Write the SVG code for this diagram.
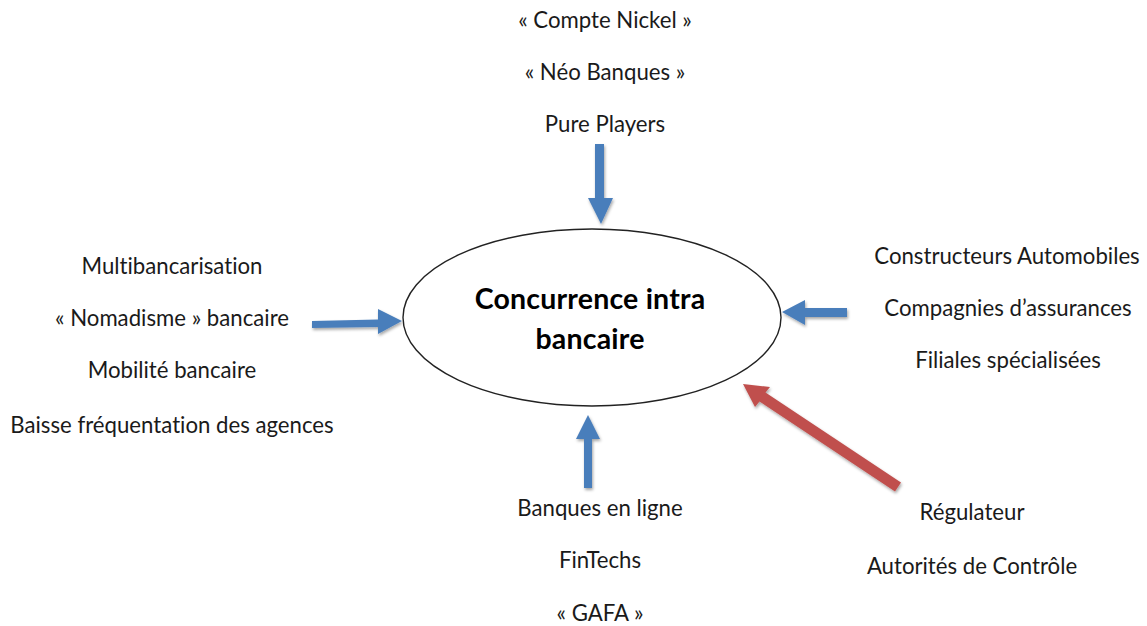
<svg xmlns="http://www.w3.org/2000/svg" width="1147" height="626" viewBox="0 0 1147 626">
<style>
text{font-family:Lato,"Open Sans","Liberation Sans",sans-serif;font-size:22.2px;font-variant-ligatures:none;fill:#1a1a1a;text-anchor:middle}
.t{font-weight:700;font-size:28.5px;letter-spacing:.2px;fill:#000}
.b{fill:#4a7ebb;filter:url(#s)}
.r{fill:#c0504d;filter:url(#s)}
</style>
<defs><filter id="s" x="-30%" y="-30%" width="160%" height="160%"><feDropShadow dx="1" dy="2" stdDeviation="1.6" flood-color="#000" flood-opacity=".35"/></filter></defs>
<rect width="1147" height="626" fill="#fff"/>
<g id="center"><ellipse cx="592" cy="317.5" rx="189" ry="88.5" fill="#fff" stroke="#222" stroke-width="1.4"/>
<text class="t" x="590" y="309">Concurrence intra</text><text class="t" x="590" y="349">bancaire</text></g>
<g id="top"><text x="605" y="28">« Compte Nickel »</text><text x="605" y="80">« Néo Banques »</text><text x="605" y="132">Pure Players</text></g>
<g id="left"><text x="172" y="274">Multibancarisation</text><text x="172" y="326">« Nomadisme » bancaire</text><text x="172" y="378">Mobilité bancaire</text><text x="172" y="433">Baisse fréquentation des agences</text></g>
<g id="right"><text x="1007" y="264">Constructeurs Automobiles</text><text x="1008" y="316">Compagnies d’assurances</text><text x="1008" y="368">Filiales spécialisées</text></g>
<g id="bottom"><text x="600" y="516">Banques en ligne</text><text x="600" y="568">FinTechs</text><text x="600" y="621">« GAFA »</text></g>
<g id="regulator"><text x="972" y="520">Régulateur</text><text x="972" y="574">Autorités de Contrôle</text></g>
<g id="connectors">
<polygon class="b" points="595,144 604,144 604,198 613,198 601,224 588,198 595,198"/>
<polygon class="b" points="312,321 378,319.5 378,309 402,321 378,334 378,327 312,328"/>
<polygon class="b" points="847,308 805,308 805,300 782,312 805,325 805,317 847,317"/>
<polygon class="b" points="584,488 592,488 592,439 600,439 588,415 576,439 584,439"/>
<polygon class="r" points="901,482.500 895,491.500 759.500,401.500 755,407 743,384 770,387 765.500,392.500"/>
</g>
</svg>
